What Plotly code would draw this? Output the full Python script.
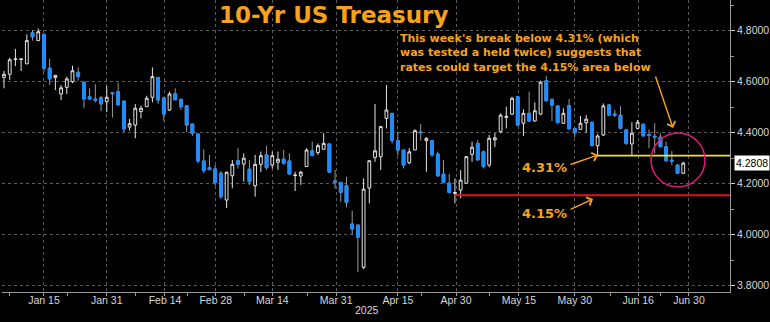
import plotly.graph_objects as go

# ---- data: daily candles of the 10-yr US Treasury yield (trading-day index) ----
opens = [4.617, 4.629, 4.687, 4.687, 4.670, 4.792, 4.761, 4.786, 4.653, 4.616,
         4.552, 4.578, 4.600, 4.637, 4.598, 4.541, 4.532, 4.537, 4.522, 4.557,
         4.561, 4.524, 4.422, 4.430, 4.483, 4.502, 4.539, 4.617, 4.537, 4.489,
         4.553, 4.531, 4.505, 4.434, 4.395, 4.289, 4.263, 4.258, 4.241, 4.136,
         4.231, 4.290, 4.277, 4.257, 4.192, 4.276, 4.313, 4.273, 4.284, 4.296,
         4.289, 4.232, 4.230, 4.267, 4.329, 4.322, 4.335, 4.356, 4.211, 4.205,
         4.192, 4.042, 4.038, 3.872, 4.183, 4.303, 4.306, 4.456, 4.476, 4.369,
         4.332, 4.282, 4.332, 4.403, 4.369, 4.369, 4.316, 4.237, 4.202, 4.162,
         4.175, 4.202, 4.315, 4.358, 4.325, 4.273, 4.372, 4.404, 4.460, 4.473,
         4.541, 4.437, 4.476, 4.446, 4.473, 4.604, 4.531, 4.505, 4.437, 4.506,
         4.417, 4.413, 4.439, 4.441, 4.349, 4.391, 4.509, 4.473, 4.469, 4.411,
         4.356, 4.417, 4.433, 4.393, 4.386, 4.382, 4.345, 4.292, 4.273, 4.241]
highs = [4.642, 4.694, 4.728, 4.689, 4.786, 4.803, 4.809, 4.786, 4.689, 4.625,
         4.587, 4.620, 4.663, 4.656, 4.598, 4.574, 4.590, 4.544, 4.583, 4.557,
         4.596, 4.524, 4.454, 4.513, 4.506, 4.545, 4.656, 4.617, 4.537, 4.561,
         4.574, 4.531, 4.509, 4.434, 4.395, 4.335, 4.313, 4.273, 4.250, 4.247,
         4.293, 4.341, 4.319, 4.293, 4.313, 4.326, 4.349, 4.326, 4.326, 4.332,
         4.319, 4.247, 4.251, 4.339, 4.365, 4.358, 4.398, 4.356, 4.254, 4.208,
         4.227, 4.094, 4.038, 4.221, 4.293, 4.513, 4.424, 4.587, 4.476, 4.404,
         4.332, 4.339, 4.413, 4.434, 4.382, 4.369, 4.326, 4.293, 4.238, 4.221,
         4.253, 4.309, 4.365, 4.371, 4.330, 4.391, 4.399, 4.476, 4.502, 4.541,
         4.541, 4.492, 4.561, 4.519, 4.604, 4.624, 4.531, 4.505, 4.496, 4.532,
         4.417, 4.466, 4.469, 4.441, 4.395, 4.515, 4.509, 4.489, 4.504, 4.415,
         4.441, 4.450, 4.437, 4.413, 4.437, 4.398, 4.365, 4.328, 4.277, 4.286]
lows = [4.574, 4.607, 4.661, 4.642, 4.670, 4.761, 4.761, 4.639, 4.587, 4.567,
        4.528, 4.552, 4.594, 4.604, 4.496, 4.532, 4.519, 4.485, 4.480, 4.459,
        4.509, 4.402, 4.408, 4.378, 4.456, 4.502, 4.519, 4.513, 4.447, 4.485,
        4.529, 4.489, 4.402, 4.387, 4.280, 4.241, 4.255, 4.192, 4.140, 4.104,
        4.182, 4.260, 4.208, 4.195, 4.149, 4.245, 4.254, 4.260, 4.254, 4.274,
        4.238, 4.171, 4.195, 4.267, 4.310, 4.313, 4.335, 4.245, 4.180, 4.129,
        4.107, 3.999, 3.853, 3.865, 4.123, 4.286, 4.254, 4.417, 4.358, 4.310,
        4.260, 4.276, 4.332, 4.369, 4.247, 4.306, 4.227, 4.202, 4.162, 4.123,
        4.143, 4.199, 4.286, 4.293, 4.260, 4.265, 4.344, 4.398, 4.417, 4.469,
        4.426, 4.387, 4.443, 4.443, 4.469, 4.525, 4.446, 4.437, 4.434, 4.415,
        4.382, 4.411, 4.400, 4.348, 4.306, 4.387, 4.467, 4.461, 4.413, 4.352,
        4.313, 4.413, 4.384, 4.339, 4.319, 4.343, 4.286, 4.273, 4.238, 4.238]
closes = [4.629, 4.686, 4.689, 4.689, 4.761, 4.776, 4.796, 4.653, 4.611, 4.625,
          4.576, 4.611, 4.643, 4.620, 4.532, 4.532, 4.527, 4.513, 4.539, 4.553,
          4.509, 4.415, 4.435, 4.496, 4.496, 4.535, 4.620, 4.528, 4.473, 4.552,
          4.529, 4.502, 4.430, 4.398, 4.289, 4.251, 4.255, 4.205, 4.149, 4.245,
          4.276, 4.276, 4.300, 4.208, 4.276, 4.310, 4.263, 4.310, 4.296, 4.280,
          4.238, 4.234, 4.245, 4.332, 4.310, 4.349, 4.358, 4.245, 4.206, 4.166,
          4.127, 4.022, 3.990, 4.179, 4.290, 4.329, 4.424, 4.489, 4.369, 4.332,
          4.273, 4.325, 4.408, 4.400, 4.378, 4.313, 4.231, 4.205, 4.166, 4.165,
          4.214, 4.306, 4.343, 4.293, 4.267, 4.378, 4.380, 4.469, 4.464, 4.535,
          4.430, 4.476, 4.446, 4.486, 4.598, 4.525, 4.508, 4.439, 4.476, 4.415,
          4.400, 4.437, 4.453, 4.349, 4.387, 4.505, 4.469, 4.469, 4.417, 4.358,
          4.398, 4.441, 4.388, 4.390, 4.383, 4.345, 4.290, 4.288, 4.241, 4.2808]
day_index = list(range(len(closes)))

tick_positions = [7, 18, 28.2, 37.1, 47, 58.2, 69, 79.2, 90.2, 100, 111.1, 120]
tick_labels = ["Jan 15", "Jan 31", "Feb 14", "Feb 28", "Mar 14", "Mar 31",
               "Apr 15", "Apr 30", "May 15", "May 30", "Jun 16", "Jun 30"]
minor_tick_positions = [1, 11.2, 23.1, 32.2, 42.2, 53.1, 73.1, 85.1, 106.2, 115.1]
y_ticks = [3.8, 4.0, 4.2, 4.4, 4.6, 4.8]

support_levels = [4.31, 4.155]        # yellow, red
support_start = [104, 79]             # trading-day index where each line starts
last_value = 4.2808

# ---- layout geometry helpers (pixels of the 770x322 canvas) ----
W, H = 770, 322
L_M, R_M, T_M, B_M = 2, 40, 0, 30
PW, PH = W - L_M - R_M, H - T_M - B_M
def px(x):  # canvas x -> paper x
    return (x - L_M) / PW
def py(y):  # canvas y -> paper y
    return 1 - (y - T_M) / PH

ORANGE = "#F7A21B"
BLUE = "#1E8CFF"
TXT = "#d8d8d8"

fig = go.Figure()
fig.add_trace(go.Candlestick(
    x=day_index, open=opens, high=highs, low=lows, close=closes,
    increasing=dict(line=dict(color="#e4e4e4", width=1), fillcolor="#000000"),
    decreasing=dict(line=dict(color="#9a9a9a", width=1), fillcolor=BLUE),
    whiskerwidth=0, hoverinfo="skip", showlegend=False))

# blue bodies drawn over the grey outlines of falling candles
dn = [i for i in day_index if closes[i] < opens[i]]
fig.add_trace(go.Candlestick(
    x=dn, open=[opens[i] for i in dn], high=[opens[i] for i in dn],
    low=[closes[i] for i in dn], close=[closes[i] for i in dn],
    increasing=dict(line=dict(color=BLUE, width=1), fillcolor=BLUE),
    decreasing=dict(line=dict(color=BLUE, width=1), fillcolor=BLUE),
    whiskerwidth=0, hoverinfo="skip", showlegend=False))

x_lo = (L_M - 4) / 5.708
x_hi = (W - R_M - 4) / 5.708
y_hi = 4.8 + (30.7 - T_M) / 255
y_lo = 4.8 - (H - B_M - 30.7) / 255

for lvl, start, col, wdt in zip(support_levels, support_start, ["#F2E41C", "#E3121B"], [1.6, 2]):
    fig.add_shape(type="line", xref="x", yref="y", x0=start, x1=x_hi, y0=lvl, y1=lvl,
                  line=dict(color=col, width=wdt))

# pink circle around the break
fig.add_shape(type="circle", xref="paper", yref="paper",
              x0=px(651), x1=px(705), y0=py(187), y1=py(133),
              line=dict(color="#E0197D", width=1.5))

fig.update_layout(
    width=W, height=H, margin=dict(l=L_M, r=R_M, t=T_M, b=B_M),
    paper_bgcolor="#000000", plot_bgcolor="#000000",
    font=dict(family="Liberation Sans, Arial", size=10.5, color=TXT),
    xaxis=dict(range=[x_lo, x_hi], rangeslider=dict(visible=False),
               tickmode="array", tickvals=tick_positions, ticktext=tick_labels,
               showgrid=True, gridcolor="#5a5a5a", griddash="dot", gridwidth=1,
               zeroline=False, showline=True, linecolor="#9a9a9a", linewidth=1,
               ticks="outside", ticklen=3, tickcolor="#9a9a9a",
               ticklabelstandoff=-5,
               tickfont=dict(size=10.5, color=TXT),
               minor=dict(tickmode="array", tickvals=minor_tick_positions,
                          ticks="outside", ticklen=3, tickcolor="#9a9a9a", showgrid=False)),
    yaxis=dict(range=[y_lo, y_hi], side="right", tickmode="array", tickvals=y_ticks,
               tickformat=".4f", showgrid=True, gridcolor="#5a5a5a", griddash="dot",
               zeroline=False, showline=True, linecolor="#9a9a9a", linewidth=1,
               ticks="outside", ticklen=4, tickcolor="#d0d0d0",
               tickfont=dict(size=10.5, color=TXT),
               minor=dict(dtick=0.1, ticks="outside", ticklen=3, tickcolor="#9a9a9a",
                          showgrid=False)),
    showlegend=False,
)

ann = []
ann.append(dict(text="<b>10-Yr US Treasury</b>", xref="paper", yref="paper",
                x=px(333), y=py(15), showarrow=False, xanchor="center", yanchor="middle",
                font=dict(family="DejaVu Sans", size=23, color=ORANGE)))
ann.append(dict(text="<b>This week's break below 4.31% (which<br>was tested a held twice) suggests that"
                     "<br>rates could target the 4.15% area below</b>",
                xref="paper", yref="paper", x=px(398), y=py(30), xanchor="left", yanchor="top",
                align="left", showarrow=False,
                font=dict(family="DejaVu Sans", size=11, color=ORANGE)))
ann.append(dict(text="<b>4.31%</b>", xref="paper", yref="paper", x=px(544), y=py(167),
                xanchor="center", yanchor="middle",
                showarrow=False, font=dict(family="DejaVu Sans", size=13, color=ORANGE)))
ann.append(dict(text="<b>4.15%</b>", xref="paper", yref="paper", x=px(544), y=py(213),
                xanchor="center", yanchor="middle",
                showarrow=False, font=dict(family="DejaVu Sans", size=13, color=ORANGE)))
for hx, hy, tx, ty in [(673, 128, 655, 75), (598, 155, 569, 165), (593, 199, 569, 210)]:
    ann.append(dict(text="", xref="paper", yref="paper", x=px(hx), y=py(hy),
                    ax=tx - hx, ay=ty - hy, showarrow=True, arrowhead=4, arrowsize=1.2,
                    arrowwidth=1.4, arrowcolor=ORANGE))
ann.append(dict(text="2025", xref="paper", yref="paper", x=px(367), y=py(310),
                xanchor="center", yanchor="middle",
                showarrow=False, font=dict(size=10.5, color=TXT)))
ann.append(dict(text="4.2808", xref="paper", yref="y", x=1.005, y=last_value,
                xanchor="left", yanchor="middle", showarrow=False, bgcolor="#ffffff", borderpad=1,
                font=dict(size=10.5, color="#000000")))
fig.update_layout(annotations=ann)

fig.write_html("out.html")
